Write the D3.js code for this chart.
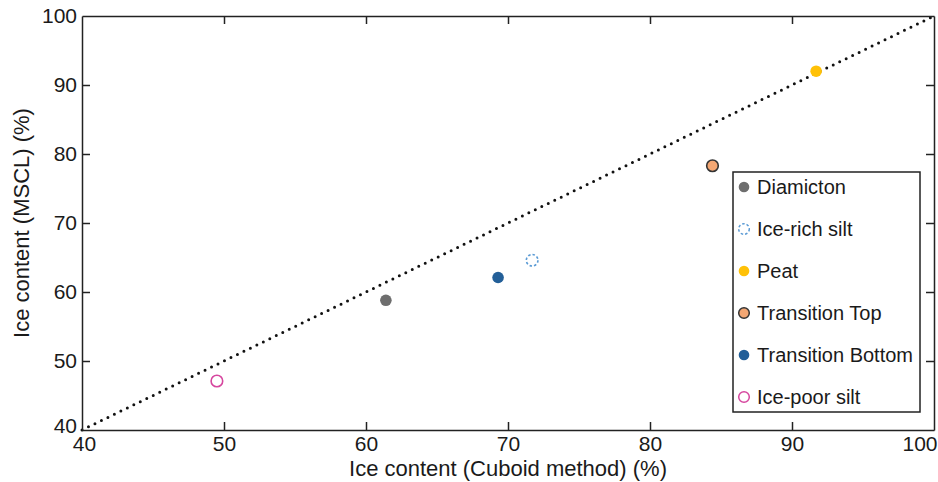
<!DOCTYPE html>
<html>
<head>
<meta charset="utf-8">
<script src="https://cdn.jsdelivr.net/npm/d3@7"></script>
<style>
  body { margin: 0; background: #fff; }
  text { font-family: "Liberation Sans", Arial, sans-serif; fill: #1a1a1a; }
</style>
</head>
<body>
<svg id="chart" width="938" height="482"></svg>
<script>
// data
var names   = ["Diamicton", "Ice-rich silt", "Peat", "Transition Top", "Transition Bottom", "Ice-poor silt"];
var cuboid  = [61.4, 71.7, 91.7, 84.4, 69.3, 49.5];
var mscl    = [58.8, 64.6, 92.0, 78.3, 62.1, 47.1];
var ticks   = [40, 50, 60, 70, 80, 90, 100];

// marker looks per series
var fills   = ["#6e6e6e", "none", "#ffc107", "#f4a773", "#235f98", "none"];
var strokes = ["none", "#5b9bd5", "none", "#333", "none", "#d6479f"];
var dashes  = [null, "2.5,2", null, null, null, null];

var margin = { left: 82, right: 4, top: 16, bottom: 52 },
    width  = 938 - margin.left - margin.right,
    height = 482 - margin.top - margin.bottom;

var svg = d3.select("#chart").append("g")
    .attr("transform", "translate(" + margin.left + "," + margin.top + ")");

var x = d3.scaleLinear().domain([40, 100]).range([0, width]);
var y = d3.scaleLinear().domain([40, 100]).range([height, 0]);

// 1:1 line
svg.append("line")
    .attr("x1", x(40)).attr("y1", y(40))
    .attr("x2", x(100)).attr("y2", y(100))
    .style("stroke", "#111").style("stroke-width", 3)
    .style("stroke-linecap", "round").style("stroke-dasharray", "0,7.2");

// axes, ticks inward on all four sides
var tl = 8;
var xb = svg.append("g").attr("transform", "translate(0," + height + ")")
    .call(d3.axisBottom(x).tickValues(ticks).tickSizeInner(-tl).tickSizeOuter(0).tickPadding(6));
var yl = svg.append("g")
    .call(d3.axisLeft(y).tickValues(ticks).tickSizeInner(-tl).tickSizeOuter(0).tickPadding(5));
svg.append("g")
    .call(d3.axisTop(x).tickValues(ticks).tickSizeInner(-tl).tickSizeOuter(0).tickFormat(""));
svg.append("g").attr("transform", "translate(" + width + ",0)")
    .call(d3.axisRight(y).tickValues(ticks).tickSizeInner(-tl).tickSizeOuter(0).tickFormat(""));

svg.selectAll(".domain").style("stroke", "#222").style("stroke-width", 1.5);
svg.selectAll(".tick line").style("stroke", "#222").style("stroke-width", 1.5);
svg.selectAll(".tick text").style("font-size", "21px").style("font-family", "Liberation Sans, Arial, sans-serif").style("fill", "#1a1a1a");

// corner labels nudged apart, last x label kept inside the window
xb.selectAll(".tick").filter(function(d) { return d == 100; }).select("text")
    .attr("text-anchor", "end").attr("x", 3);
xb.selectAll(".tick").filter(function(d) { return d == 40; }).select("text").attr("x", 2);
yl.selectAll(".tick").filter(function(d) { return d == 40; }).select("text").attr("y", -4);

// drop the end tick marks that sit on the frame corners
svg.selectAll(".tick").filter(function(d) { return d == 40 || d == 100; }).select("line").remove();

// axis titles
svg.append("text")
    .attr("x", width / 2).attr("y", height + 46)
    .attr("text-anchor", "middle").style("font-size", "22px")
    .text("Ice content (Cuboid method) (%)");
svg.append("text")
    .attr("transform", "translate(-53," + (height / 2) + ") rotate(-90)")
    .attr("text-anchor", "middle").style("font-size", "22px")
    .text("Ice content (MSCL) (%)");

// points
svg.selectAll(".pt").data(names).enter().append("circle")
    .attr("class", "pt")
    .attr("cx", function(d, i) { return x(cuboid[i]); })
    .attr("cy", function(d, i) { return y(mscl[i]); })
    .attr("r", 5.8)
    .style("fill", function(d, i) { return fills[i]; })
    .style("stroke", function(d, i) { return strokes[i]; })
    .style("stroke-width", 1.6)
    .style("stroke-dasharray", function(d, i) { return dashes[i]; });

// legend
var lg = svg.append("g").attr("transform", "translate(" + (733 - margin.left) + "," + (172 - margin.top) + ")");
lg.append("rect").attr("width", 187).attr("height", 240)
    .style("fill", "#fff").style("stroke", "#222").style("stroke-width", 1.5);
var items = lg.selectAll(".item").data(names).enter().append("g")
    .attr("transform", function(d, i) { return "translate(0," + (15 + i * 42) + ")"; });
items.append("circle")
    .attr("cx", 11).attr("cy", 0).attr("r", 5.3)
    .style("fill", function(d, i) { return fills[i]; })
    .style("stroke", function(d, i) { return strokes[i]; })
    .style("stroke-width", 1.5)
    .style("stroke-dasharray", function(d, i) { return dashes[i]; });
items.append("text")
    .attr("x", 24).attr("y", 7)
    .style("font-size", "20px")
    .text(function(d) { return d; });
</script>
</body>
</html>
